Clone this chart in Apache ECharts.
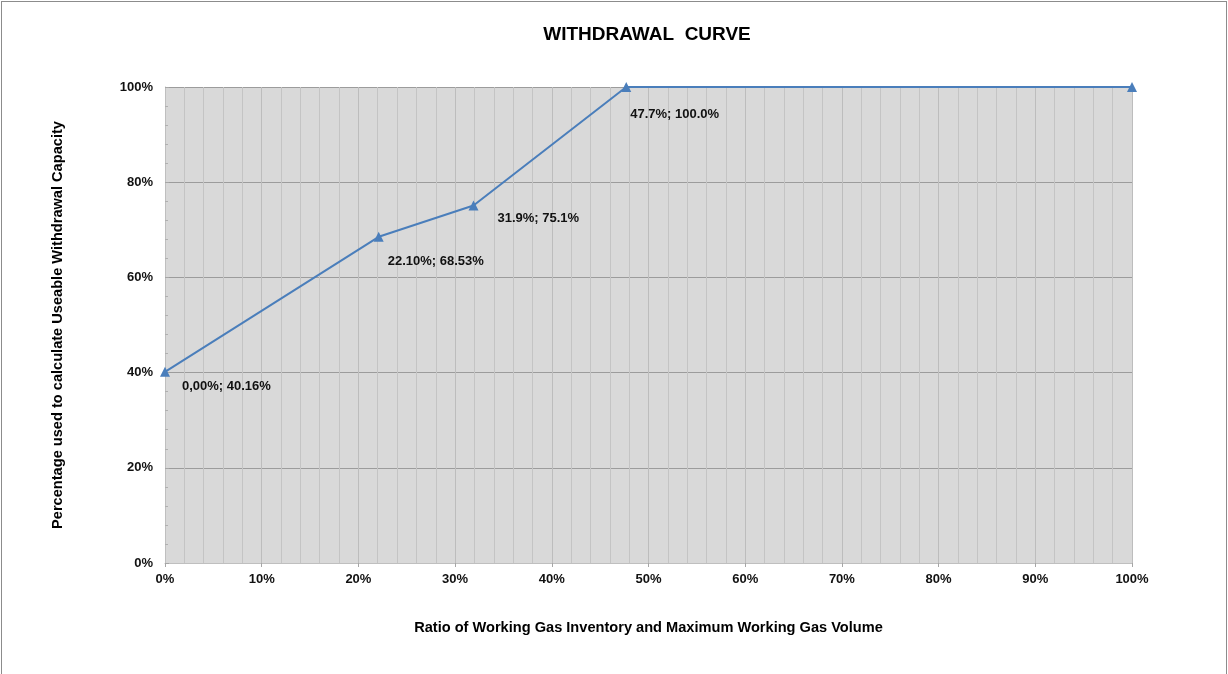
<!DOCTYPE html>
<html>
<head>
<meta charset="utf-8">
<script src="https://cdn.jsdelivr.net/npm/echarts@6/dist/echarts.min.js"></script>
<style>
  html, body { margin: 0; padding: 0; background: #fff; }
  #chart { position: absolute; left: 0; top: 0; width: 1228px; height: 674px; }
  #frame { position: absolute; left: 1px; top: 1px; width: 1224px; height: 680px;
           border: 1px solid #8c8c8c; pointer-events: none; }
</style>
</head>
<body>
<div id="chart"></div>
<div id="frame"></div>
<script>
// withdrawal curve points: ratio of inventory (%) vs usable withdrawal capacity (%)
const ratioX = [0, 22.10, 31.9, 47.7, 100];
const capacityY = [40.16, 68.53, 75.1, 100, 100];
const pointLabels = ['0,00%; 40.16%', '22.10%; 68.53%', '31.9%; 75.1%', '47.7%; 100.0%', ''];
const labelOffsets = [[17, 15], [9, 25], [24, 13], [4, 27], [0, 0]];

const chart = echarts.init(document.getElementById('chart'));

const font = '"Liberation Sans", Arial, sans-serif';

const seriesData = ratioX.map((x, i) => ({
  value: [x, capacityY[i]],
  label: {
    show: pointLabels[i] !== '',
    formatter: pointLabels[i],
    position: 'inside',
    align: 'left',
    verticalAlign: 'middle',
    offset: labelOffsets[i]
  }
}));

const option = {
  animation: false,
  graphic: [{
    type: 'text',
    x: 647,
    y: 35,
    style: {
      text: 'WITHDRAWAL  CURVE',
      align: 'center',
      verticalAlign: 'middle',
      font: 'bold 19px ' + font,
      fill: '#000'
    }
  }],
  grid: {
    left: 165,
    right: 96,
    top: 87,
    bottom: 111,
    show: true,
    backgroundColor: '#d9d9d9',
    borderWidth: 0
  },
  xAxis: {
    type: 'value',
    min: 0,
    max: 100,
    interval: 10,
    name: 'Ratio of Working Gas Inventory and Maximum Working Gas Volume',
    nameLocation: 'middle',
    nameGap: 57,
    nameTextStyle: { fontFamily: font, fontSize: 14.6, fontWeight: 'bold', color: '#000' },
    axisLine: { show: true, lineStyle: { color: '#bfbfbf' } },
    axisTick: { show: true, length: 4, lineStyle: { color: '#a6a6a6' } },
    axisLabel: {
      formatter: '{value}%',
      margin: 10,
      fontFamily: font, fontSize: 13, fontWeight: 'bold', color: '#111'
    },
    splitLine: { show: true, lineStyle: { color: '#bdbdbd', width: 1 } },
    minorSplitLine: { show: true, lineStyle: { color: '#c4c4c4', width: 1 } },
    minorTick: { show: false, splitNumber: 5 }
  },
  yAxis: {
    type: 'value',
    min: 0,
    max: 100,
    interval: 20,
    name: 'Percentage used to calculate Useable Withdrawal Capacity',
    nameLocation: 'middle',
    nameRotate: 90,
    nameGap: 100,
    nameTextStyle: { fontFamily: font, fontSize: 14.6, fontWeight: 'bold', color: '#000' },
    axisLine: { show: true, lineStyle: { color: '#bfbfbf' } },
    axisTick: { show: true, inside: true, length: 4, lineStyle: { color: '#a6a6a6' } },
    minorTick: { show: true, splitNumber: 5, length: 3, lineStyle: { color: '#b0b0b0' } },
    axisLabel: {
      formatter: '{value}%',
      margin: 12,
      fontFamily: font, fontSize: 13, fontWeight: 'bold', color: '#111'
    },
    splitLine: { show: true, lineStyle: { color: '#9c9c9c', width: 1 } }
  },
  series: [{
    type: 'line',
    data: seriesData,
    symbol: 'triangle',
    symbolSize: 10,
    showAllSymbol: true,
    lineStyle: { color: '#4a7ebb', width: 2 },
    itemStyle: { color: '#4a7ebb' },
    label: {
      fontFamily: font, fontSize: 13, fontWeight: 'bold', color: '#111'
    },
    z: 5
  }]
};

chart.setOption(option);
</script>
</body>
</html>
